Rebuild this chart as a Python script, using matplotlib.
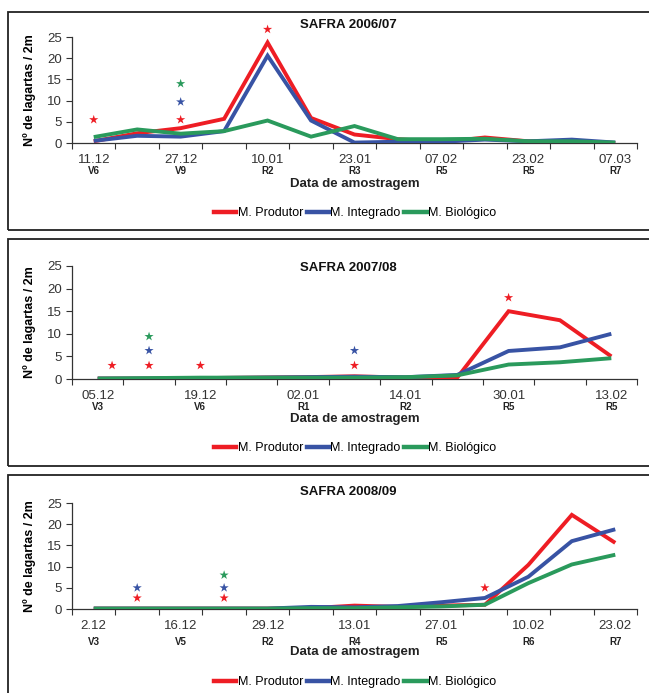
import matplotlib
matplotlib.use("Agg")
import matplotlib.pyplot as plt
from matplotlib.patches import Rectangle
from matplotlib.lines import Line2D
from matplotlib import font_manager

names = {f.name for f in font_manager.fontManager.ttflist}
FONT = "Liberation Sans" if "Liberation Sans" in names else "DejaVu Sans"
NARROW = "Liberation Sans Narrow" if "Liberation Sans Narrow" in names else FONT
plt.rcParams["font.family"] = [FONT, "DejaVu Sans"]

# ---------------- data ----------------
series_names = ["M. Produtor", "M. Integrado", "M. Biológico"]

titles = ["SAFRA 2006/07", "SAFRA 2007/08", "SAFRA 2008/09"]

dates1 = ["11.12", "", "27.12", "", "10.01", "", "23.01", "", "07.02", "", "23.02", "", "07.03"]
stages1 = ["V6", "", "V9", "", "R2", "", "R3", "", "R5", "", "R5", "", "R7"]
prod1 = [0.4, 2.3, 3.5, 5.7, 23.7, 5.9, 2.0, 0.9, 0.2, 1.3, 0.4, 0.3, 0.0]
integ1 = [0.5, 1.7, 1.5, 2.8, 20.6, 5.3, 0.1, 0.3, 0.3, 0.8, 0.4, 0.8, 0.1]
bio1 = [1.4, 3.2, 2.2, 2.8, 5.3, 1.5, 4.0, 0.9, 0.9, 1.0, 0.4, 0.4, 0.1]
star1_x = [0, 2, 2, 2, 4]
star1_y = [5.5, 5.5, 9.7, 14.0, 26.8]
star1_s = [0, 0, 1, 2, 0]

dates2 = ["05.12", "", "19.12", "", "02.01", "", "14.01", "", "30.01", "", "13.02"]
stages2 = ["V3", "", "V6", "", "R1", "", "R2", "", "R5", "", "R5"]
prod2 = [0.1, 0.1, 0.2, 0.3, 0.4, 0.6, 0.3, 0.3, 15.0, 13.0, 5.0]
integ2 = [0.1, 0.1, 0.2, 0.3, 0.4, 0.5, 0.4, 0.9, 6.2, 7.0, 10.0]
bio2 = [0.1, 0.2, 0.3, 0.3, 0.3, 0.3, 0.4, 0.8, 3.2, 3.7, 4.6]
star2_x = [0.28, 1, 1, 1, 2, 5, 5, 8]
star2_y = [3.0, 3.0, 6.3, 9.4, 3.0, 3.0, 6.3, 18.0]
star2_s = [0, 0, 1, 2, 0, 0, 1, 0]

dates3 = ["2.12", "", "16.12", "", "29.12", "", "13.01", "", "27.01", "", "10.02", "", "23.02"]
stages3 = ["V3", "", "V5", "", "R2", "", "R4", "", "R5", "", "R6", "", "R7"]
prod3 = [0.1, 0.1, 0.1, 0.1, 0.1, 0.2, 0.8, 0.5, 0.8, 1.0, 10.4, 22.2, 15.6]
integ3 = [0.1, 0.1, 0.1, 0.1, 0.1, 0.5, 0.4, 0.7, 1.6, 2.6, 7.6, 16.0, 18.8]
bio3 = [0.1, 0.1, 0.1, 0.1, 0.1, 0.2, 0.2, 0.4, 0.6, 1.0, 6.1, 10.5, 12.8]
star3_x = [1, 1, 3, 3, 3, 9]
star3_y = [2.6, 5.0, 2.6, 5.0, 8.0, 5.0]
star3_s = [0, 1, 0, 1, 2, 0]

yticks = [0, 5, 10, 15, 20, 25]

colors = ["#EE1D24", "#3853A4", "#2A9A5C"]

# ---------------- layout (pixels) ----------------
W, H = 649, 693
fig = plt.figure(figsize=(W / 100, H / 100), dpi=100)

def fx(px):
    return px / W

def fy(py):
    return 1 - py / H

panels = [
    dict(frame=(12, 230), ytop=37, y0=143, dates=dates1, stages=stages1,
         data=[prod1, integ1, bio1], sx=star1_x, sy=star1_y, ss=star1_s,
         title_y=25, date_y=160, stage_y=171, xlabel_y=184, legend_y=213),
    dict(frame=(239, 466), ytop=266, y0=379, dates=dates2, stages=stages2,
         data=[prod2, integ2, bio2], sx=star2_x, sy=star2_y, ss=star2_s,
         title_y=268, date_y=396, stage_y=407, xlabel_y=419, legend_y=448),
    dict(frame=(475, 705), ytop=503, y0=609, dates=dates3, stages=stages3,
         data=[prod3, integ3, bio3], sx=star3_x, sy=star3_y, ss=star3_s,
         title_y=492, date_y=626, stage_y=642, xlabel_y=652, legend_y=682),
]

X0, X1 = 72, 637
dark = "#333333"

for i, p in enumerate(panels):
    top, bot = p["frame"]
    fig.patches.append(Rectangle((fx(8), fy(bot)), fx(700), (bot - top) / H,
                                 transform=fig.transFigure, fill=False,
                                 edgecolor="#222222", linewidth=1.3))
    ax = fig.add_axes([fx(X0), fy(p["y0"]), fx(X1 - X0), (p["y0"] - p["ytop"]) / H])
    n = len(p["dates"])
    xs = list(range(n))
    for k, vals in enumerate(p["data"]):
        ax.plot(xs, vals, color=colors[k], lw=2.8, solid_joinstyle="miter",
                solid_capstyle="butt", label=series_names[k], zorder=3)
    ax.scatter(p["sx"], p["sy"], marker="*", s=48,
               c=[colors[s] for s in p["ss"]], linewidths=0, clip_on=False, zorder=4)
    ax.set_xlim(-0.5, n - 0.5)
    ax.set_ylim(0, 25)
    ax.set_yticks(yticks)
    ax.set_xticks([k + 0.5 for k in range(-1, n)])
    ax.set_xticklabels([])
    ax.tick_params(axis="y", direction="out", length=4, width=0.8, colors=dark,
                   labelsize=9.5, pad=3)
    ax.tick_params(axis="x", direction="out", length=4, width=0.8, colors=dark)
    for sname in ("top", "right"):
        ax.spines[sname].set_visible(False)
    for sname in ("left", "bottom"):
        ax.spines[sname].set_color(dark)
        ax.spines[sname].set_linewidth(0.9)
    ax.set_facecolor("none")
    ax.set_ylabel("Nº de lagartas / 2m", fontsize=9, fontweight="bold",
                  family=[NARROW, "DejaVu Sans"], labelpad=8)
    # date and stage labels
    for k in range(n):
        xf = fx(X0 + (X1 - X0) * (k + 0.5) / n)
        if p["dates"][k]:
            fig.text(xf, fy(p["date_y"]), p["dates"][k], ha="center", va="center",
                     fontsize=9.5, color=dark)
        if p["stages"][k]:
            fig.text(xf, fy(p["stage_y"]), p["stages"][k], ha="center", va="center",
                     fontsize=7, fontweight="bold", color="#222222")
    fig.text(fx(355), fy(p["xlabel_y"]), "Data de amostragem", ha="center", va="center",
             fontsize=9.5, fontweight="bold", family=[NARROW, "DejaVu Sans"], color="#222222")
    fig.text(fx(348), fy(p["title_y"]), titles[i], ha="center", va="center",
             fontsize=9.5, fontweight="bold", color="#111111")
    handles = [Line2D([], [], color=c, lw=3.2) for c in colors]
    fig.legend(handles, series_names, loc="center", bbox_to_anchor=(fx(355), fy(p["legend_y"])),
               ncol=3, frameon=False, handlelength=1.8, handletextpad=0.1,
               columnspacing=0.3, borderaxespad=0, borderpad=0,
               prop={"family": [NARROW, "DejaVu Sans"], "size": 9})

fig.savefig("out.png", dpi=100, facecolor="white")
